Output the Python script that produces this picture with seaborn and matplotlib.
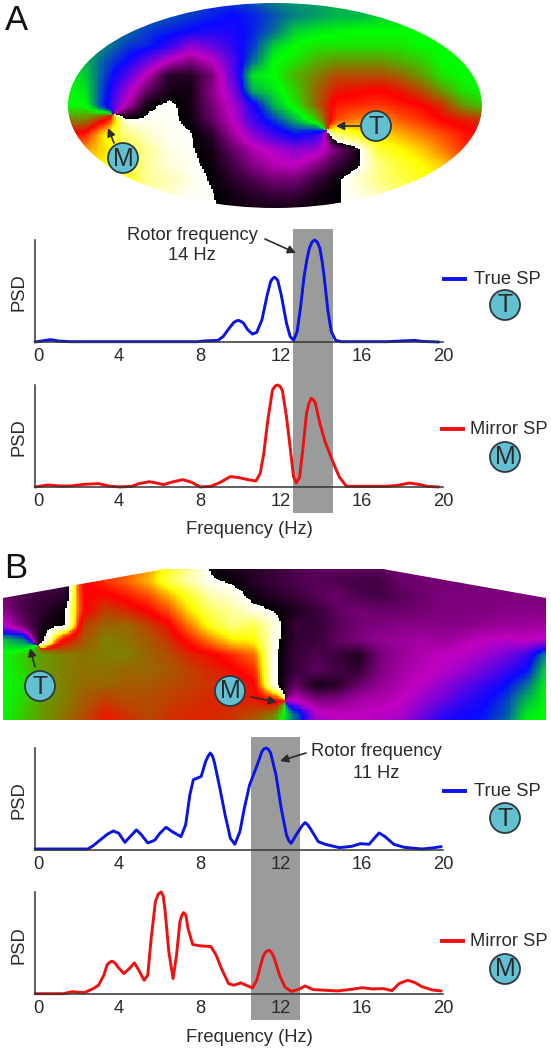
import numpy as np
import pandas as pd
import seaborn as sns
import matplotlib.pyplot as plt
from matplotlib.colors import LinearSegmentedColormap
from matplotlib.patches import Circle, Ellipse, Polygon, Rectangle

W, H = 551, 1050

# PSD traces, frequency in Hz and PSD in % of the panel height
a_true_f = [-0.14, 0.38, 0.64, 0.99, 1.6, 3.33, 7.85, 8.19, 8.89, 9.15, 9.41, 9.67, 9.78, 9.9, 10.02, 10.14, 10.36, 10.59, 10.8, 11.06, 11.32, 11.49, 11.58, 11.67, 11.76, 11.84, 12.01, 12.27, 12.45, 12.62, 12.8, 12.97, 13.14, 13.27, 13.4, 13.53, 13.66, 13.79, 13.92, 14.03, 14.13, 14.31, 14.48, 14.7, 14.97, 17.22, 18.61, 18.96, 19.79]
a_true_p = [0, 1.6, 2.3, 1, 0.3, 0.3, 0.3, 1, 1.6, 5.5, 12.7, 19.2, 20.5, 21.2, 20.2, 18.6, 12, 7.8, 9.4, 21.8, 46.3, 59.3, 62, 63.5, 62.3, 60.3, 46.3, 18.6, 5.5, 1.6, 10.4, 34.9, 64.2, 80, 91.9, 98, 100, 98, 91.9, 79, 64.2, 31.6, 10.4, 1.6, 0.3, 0.3, 1.6, 0.6, 0]

a_mirror_f = [-0.14, 0.47, 1.08, 1.6, 2.29, 2.99, 3.51, 4.03, 4.64, 4.98, 5.5, 5.85, 6.2, 6.63, 7.15, 7.59, 8.02, 8.54, 8.98, 9.5, 9.93, 10.36, 10.76, 10.97, 11.15, 11.35, 11.58, 11.71, 11.84, 11.96, 12.07, 12.27, 12.45, 12.62, 12.76, 12.92, 13.09, 13.26, 13.38, 13.49, 13.6, 13.7, 13.92, 14.18, 14.53, 14.88, 15.23, 15.49, 17.22, 17.74, 18.35, 18.87, 19.22, 19.79]
a_mirror_p = [0, 2, 1, 1, 2.6, 3.3, 1, 0, 0.7, 3.3, 5.2, 3.9, 2.3, 4.9, 7.2, 4.6, 0, 0.7, 4.3, 10.2, 9.2, 7.2, 5.9, 13.1, 32.8, 65.6, 95.1, 99, 100, 98.5, 94.4, 68.9, 39.3, 9.8, 3.9, 9.8, 39.3, 72.1, 82, 86.9, 85.5, 82, 62.3, 44.3, 26.2, 9.8, 0.7, 0.7, 0.7, 1.6, 3.9, 2.3, 0.7, 0]

b_true_f = [-0.14, 2.47, 2.73, 3.07, 3.42, 3.72, 3.99, 4.29, 4.55, 4.86, 5.1, 5.42, 5.76, 6.02, 6.32, 6.63, 7.06, 7.29, 7.5, 7.67, 8.06, 8.28, 8.4, 8.51, 8.62, 8.72, 8.98, 9.24, 9.5, 9.72, 9.97, 10.19, 10.45, 10.8, 11.06, 11.17, 11.27, 11.38, 11.49, 11.75, 12.01, 12.27, 12.39, 12.5, 12.8, 13.05, 13.19, 13.33, 13.49, 13.84, 14.18, 14.88, 15.49, 15.92, 16.35, 16.84, 17.14, 17.57, 18.09, 18.96, 19.48, 19.91]
b_true_p = [1, 1, 4.3, 9.8, 15.4, 18.7, 16.4, 7.5, 13.1, 19.7, 15.1, 6.9, 9.5, 16.4, 22.3, 18, 13.1, 24.6, 54.1, 68.9, 72.1, 86.9, 92, 95.1, 92, 85.2, 60.7, 34.4, 11.5, 5.6, 18, 41, 63.9, 82, 96.7, 99.3, 100, 98.6, 95.1, 73.8, 41, 14.8, 9, 6.6, 16.4, 24, 26.9, 24.5, 19.7, 8.2, 5.6, 2.3, 3.6, 6.2, 5.6, 16.7, 13.1, 5.6, 2.6, 1, 2, 3.3]

b_mirror_f = [-0.14, 1.25, 1.68, 2.29, 2.73, 2.99, 3.25, 3.42, 3.54, 3.65, 3.8, 3.94, 4.24, 4.51, 4.76, 4.98, 5.24, 5.42, 5.59, 5.8, 5.94, 6.08, 6.18, 6.28, 6.46, 6.67, 6.84, 7.01, 7.1, 7.19, 7.3, 7.41, 7.64, 8.02, 8.54, 8.8, 9.06, 9.41, 9.67, 10.02, 10.36, 10.59, 10.8, 11.11, 11.26, 11.41, 11.54, 11.67, 11.93, 12.19, 12.5, 12.88, 13.19, 13.58, 14.79, 15.49, 16.01, 16.53, 17.05, 17.48, 17.83, 18.26, 18.61, 18.96, 19.48, 19.91]
b_mirror_p = [0.3, 0.3, 2.3, 1.3, 5.3, 8.6, 18.4, 28.9, 31, 32.2, 30.5, 26.6, 20, 24.9, 30.5, 23.3, 13.5, 18.4, 54.6, 90.8, 98, 100, 96.5, 80.9, 41.4, 15.1, 38, 70.9, 77, 79.8, 77.5, 64.3, 48.5, 47.2, 46.5, 38, 24.9, 10.2, 8.6, 10.9, 7.9, 5.9, 13.5, 36.5, 41.5, 43, 40.5, 34.9, 18.4, 6.9, 2.6, 4.6, 7.9, 4.3, 3, 4.6, 6.2, 4.9, 5.3, 3.3, 10.2, 13.5, 11.2, 7.2, 3.9, 3]

freq_ticks = [0, 4, 8, 12, 16, 20]

# phase maps: 0 black, 1 magenta, 2 blue, 3 green, 4 red, 5 yellow, 6 white
phase_a = [
    [3, 3, 2.8, 2.5, 2.4, 2.4, 2.3, 2.2, 2.2, 2.3, 2.5, 2.6, 2.6, 2.7, 2.8, 2.8, 3, 3, 3, 3, 3],
    [3, 3, 2.7, 2.5, 2.4, 2.3, 2.2, 2.1, 2, 2.1, 2.3, 2.5, 2.6, 2.7, 2.7, 2.8, 2.8, 3, 3, 3, 3],
    [3, 2.8, 2.6, 2.4, 2.2, 2.1, 2, 1.9, 1.9, 2.1, 2.4, 2.8, 2.9, 2.95, 3, 3, 3, 3, 3, 3, 3],
    [3, 2.8, 2.5, 2.2, 2.1, 1.8, 1.3, 1.5, 1.8, 2.2, 2.8, 3, 3.1, 3.1, 3.1, 3.1, 3.1, 3, 3, 3, 3],
    [3, 2.7, 2.3, 2.0, 1.5, 1.0, 0.7, 1.0, 1.6, 2.4, 3, 3.1, 3.3, 3.4, 3.4, 3.4, 3.3, 3.2, 3.0, 3, 3],
    [3, 2.8, 2.2, 1.6, 0.9, 0.2, 0.2, 0.6, 1.5, 2.9, 3, 3.3, 3.5, 3.7, 3.7, 3.7, 3.6, 3.4, 3.1, 3, 3],
    [3, 2.9, 2.1, 1.2, 0.5, 0.1, 0.1, 0.7, 1.3, 2.7, 2.9, 3.2, 3.6, 3.9, 3.95, 4, 3.9, 3.7, 3.4, 3.1, 3],
    [3, 3, 2.0, 0.9, 0.05, 5.95, 0.1, 0.6, 1.1, 1.9, 2.7, 3.1, 3.6, 4.1, 4.15, 4.2, 4.1, 4, 3.8, 3.4, 3.2],
    [3.5, 3.5, 4, 5.95, 5.95, 5.95, 0.05, 0.5, 1.0, 1.7, 2.2, 2.7, 3.2, 4.3, 4.5, 4.6, 4.35, 4.2, 4, 3.9, 3.8],
    [4, 4.1, 5, 5.5, 5.8, 5.95, 5.98, 0.2, 0.8, 1.3, 1.7, 2, 1.8, 5.5, 5.1, 4.9, 4.7, 4.5, 4.3, 4.1, 4],
    [4.5, 4.6, 4.9, 5.2, 5.6, 5.9, 5.97, 0.1, 0.5, 0.9, 1.1, 1.3, 1.2, 0.6, 0.1, 5.2, 5, 4.8, 4.5, 4.2, 4],
    [4.7, 4.8, 5, 5.3, 5.6, 5.85, 5.95, 0.05, 0.35, 0.7, 0.95, 1, 0.7, 0.3, 0.05, 5.5, 5.2, 5, 4.8, 4.4, 4.2],
    [5, 5, 5, 5, 5.6, 5.7, 5.9, 0.02, 0.2, 0.4, 0.6, 0.6, 0.3, 0.05, 5.8, 5.5, 5.3, 5.1, 5, 5, 5],
    [5, 5, 5, 5, 5.7, 5.8, 5.95, 5.98, 0.1, 0.2, 0.3, 0.3, 0.1, 0.02, 5.9, 5.7, 5.5, 5.5, 5.5, 5.5, 5.5],
    [5, 5, 5, 5, 5.8, 5.9, 5.97, 5.98, 0.05, 0.1, 0.1, 0.1, 0.05, 0.02, 5.95, 5.8, 5.5, 5.5, 5.5, 5.5, 5.5],
]

phase_b = [
    [0.6, 0.5, 0.4, 0.3, 0.3, 4, 4.2, 4.6, 5.1, 5.6, 0.05, 0.15, 0.2, 0.3, 0.4, 0.5, 0.55, 0.5, 0.5, 0.6, 0.6, 0.6, 0.6, 0.6, 0.6, 0.6, 0.6],
    [0.6, 0.5, 0.4, 0.3, 3.95, 4.2, 4.4, 4.7, 5.3, 5.7, 5.97, 0.05, 0.2, 0.3, 0.4, 0.45, 0.4, 0.35, 0.35, 0.55, 0.6, 0.6, 0.6, 0.6, 0.6, 0.6, 0.6],
    [0.6, 0.4, 0.3, 0.25, 4, 3.95, 4.1, 4.3, 4.7, 5.2, 5.7, 5.85, 0.1, 0.2, 0.3, 0.45, 0.55, 0.4, 0.35, 0.45, 0.55, 0.65, 0.65, 0.65, 0.65, 0.65, 0.65],
    [0.8, 0.4, 0.25, 0.05, 4.0, 3.75, 3.85, 4.0, 4.3, 4.9, 5.4, 5.6, 5.9, 0.02, 0.15, 0.3, 0.5, 0.6, 0.55, 0.55, 0.6, 0.65, 0.65, 0.65, 0.7, 0.7, 0.7],
    [1.2, 0.6, 0.1, 0.02, 3.75, 3.6, 3.6, 3.75, 3.95, 4.5, 5.1, 5.5, 5.3, 5.85, 0.3, 0.25, 0.45, 0.6, 0.65, 0.7, 0.7, 0.7, 0.7, 0.75, 0.8, 0.8, 0.85],
    [2.8, 2.5, 0.05, 4.0, 3.65, 3.5, 3.55, 3.65, 3.8, 4.1, 4.5, 4.9, 5.0, 5.9, 0.25, 0.3, 0.5, 0.65, 0.75, 0.8, 0.85, 0.8, 0.9, 1, 1.05, 1, 1.1],
    [3, 3.2, 3.4, 3.5, 3.55, 3.5, 3.5, 3.6, 3.7, 3.85, 3.95, 4.15, 4.4, 5.95, 0.3, 0.4, 0.3, 0.15, 0.6, 0.8, 0.9, 1, 1.05, 1.2, 1.4, 1.7, 2.6],
    [3, 3.15, 3.4, 3.5, 3.55, 3.55, 3.6, 3.6, 3.65, 3.75, 3.85, 3.95, 4.15, 5.95, 0.3, 0.5, 0.35, 0.25, 0.65, 0.85, 0.95, 1.05, 1.2, 1.45, 1.7, 2.0, 2.9],
    [3, 3.1, 3.4, 3.5, 3.6, 3.6, 3.65, 3.65, 3.7, 3.75, 3.8, 3.85, 3.95, 5.9, 0.5, 0.1, 0.2, 0.55, 0.75, 0.9, 1.05, 1.25, 1.5, 1.75, 2.0, 2.4, 3],
    [3, 3.15, 3.4, 3.5, 3.65, 3.75, 3.7, 3.7, 3.75, 3.8, 3.85, 3.85, 3.9, 4.1, 1.0, 0.65, 0.7, 0.85, 0.9, 1.0, 1.2, 1.45, 1.75, 1.95, 2.2, 2.7, 3],
    [3, 3.2, 3.4, 3.55, 3.7, 3.9, 3.8, 3.7, 3.8, 3.85, 3.85, 3.8, 3.7, 3.5, 2.4, 1.1, 1.0, 1.0, 1.05, 1.1, 1.4, 1.8, 1.95, 2.05, 2.3, 2.9, 3],
    [3, 3.25, 3.4, 3.6, 3.75, 3.9, 3.85, 3.8, 3.85, 3.85, 3.85, 3.8, 3.6, 3.3, 2.3, 1.2, 1, 1, 1.1, 1.3, 1.6, 1.95, 2, 2.1, 2.5, 3, 3],
]

phase_colors = ['#000000', '#c000c0', '#0808ff', '#00ff00', '#ff0000', '#ffff00', '#ffffff']
phase_cmap = LinearSegmentedColormap.from_list('phase', phase_colors, N=1024)

sns.set_style('white')
plt.rcParams['font.family'] = ['Liberation Sans', 'DejaVu Sans']
TEXT = '#2b2b2b'
BAND = '#9a9c9b'
FS = 13.2


def px_axes(fig, x0, y0, x1, y1, z):
    ax = fig.add_axes([x0 / W, 1 - y1 / H, (x1 - x0) / W, (y1 - y0) / H], zorder=z)
    ax.patch.set_visible(False)
    return ax


def upscale(grid, k=12):
    # refine the read grid on the phase circle, so the white/black jump stays sharp
    z = np.exp(2j * np.pi * np.array(grid, dtype=float) / 6)
    rows, cols = z.shape
    xi = np.linspace(0, cols - 1, (cols - 1) * k)
    yi = np.linspace(0, rows - 1, (rows - 1) * k)
    z1 = np.array([np.interp(xi, np.arange(cols), r.real) + 1j * np.interp(xi, np.arange(cols), r.imag) for r in z])
    z2 = np.array([np.interp(yi, np.arange(rows), c.real) + 1j * np.interp(yi, np.arange(rows), c.imag) for c in z1.T]).T
    return (np.angle(z2) % (2 * np.pi)) * 6 / (2 * np.pi)


def draw_map(fig, grid, box, clip):
    ax = px_axes(fig, *box, 1)
    sns.heatmap(upscale(grid), vmin=0, vmax=6, cmap=phase_cmap, cbar=False,
                xticklabels=False, yticklabels=False, ax=ax)
    ax.collections[0].set_clip_path(clip)
    ax.axis('off')


def psd_panel(fig, freq, psd, color, x0, top, base):
    ax = px_axes(fig, x0, top, 443, base, 3)
    sns.lineplot(x=freq, y=psd, color=color, lw=2.1, ax=ax, errorbar=None, clip_on=False)
    ax.set_xlim((x0 - 38) / 20.25, 20)
    ax.set_ylim(0, 100)
    ax.set_xticks(freq_ticks)
    ax.set_yticks([])
    ax.tick_params(axis='x', length=0, pad=4, labelsize=FS, labelcolor=TEXT)
    ax.set_xlabel('')
    ax.set_ylabel('')
    sns.despine(ax=ax)
    for s in ['left', 'bottom']:
        ax.spines[s].set_color('#333333')
        ax.spines[s].set_linewidth(1.1)
    return ax


def badge(ax, x, y, letter):
    ax.add_patch(Circle((x, y), 15, fc='#62c0d0', ec='#2c3a40', lw=1.3, zorder=6))
    ax.text(x, y + 0.5, letter, ha='center', va='center', fontsize=18, color='#2b2b2b', zorder=7)


def arrow(ax, start, end):
    ax.annotate('', xy=end, xytext=start,
                arrowprops=dict(arrowstyle='-|>', color='#2b2b2b', lw=1.2, mutation_scale=12, shrinkA=0, shrinkB=0),
                zorder=5)


fig = plt.figure(figsize=(W / 100, H / 100), dpi=100)

back = px_axes(fig, 0, 0, W, H, 0)
back.set_xlim(0, W)
back.set_ylim(H, 0)
back.axis('off')
front = px_axes(fig, 0, 0, W, H, 5)
front.set_xlim(0, W)
front.set_ylim(H, 0)
front.axis('off')

back.add_patch(Rectangle((293, 229), 40, 284, fc=BAND, ec='none'))
back.add_patch(Rectangle((251, 737), 49, 283, fc=BAND, ec='none'))

# outlines of the two maps
clip_a = Ellipse((275, 105.5), 413.5, 205, transform=front.transData)
clip_b = Polygon([(3, 598), (81, 584), (165, 569), (383, 569), (546, 598), (546, 720), (3, 720)],
                 transform=front.transData)
draw_map(fig, phase_a, (63.3, 0, 485, 210), clip_a)
draw_map(fig, phase_b, (0, 565, 548.3, 730), clip_b)

psd_panel(fig, a_true_f, a_true_p, '#0a14e6', 35, 240, 342)
psd_panel(fig, a_mirror_f, a_mirror_p, '#f01010', 35, 385, 487)
psd_panel(fig, b_true_f, b_true_p, '#0a14e6', 35, 748, 850)
psd_panel(fig, b_mirror_f, b_mirror_p, '#f01010', 35, 892, 994)

front.text(5, 20, 'A', fontsize=25, color='#111111', va='center')
front.text(4, 568, 'B', fontsize=25, color='#111111', va='center')

for y in [292, 437, 800, 945]:
    front.text(19, y, 'PSD', rotation=90, fontsize=FS, color=TEXT, ha='center', va='center')
for y in [530, 1038]:
    front.text(249, y, 'Frequency (Hz)', fontsize=FS, color=TEXT, ha='center', va='center')

front.text(192, 235, 'Rotor frequency', fontsize=FS, color=TEXT, ha='center', va='center')
front.text(192, 255, '14 Hz', fontsize=FS, color=TEXT, ha='center', va='center')
arrow(front, (265, 239), (296, 253))
front.text(376, 752, 'Rotor frequency', fontsize=FS, color=TEXT, ha='center', va='center')
front.text(376, 773, '11 Hz', fontsize=FS, color=TEXT, ha='center', va='center')
arrow(front, (306, 753), (280, 761))

# legend keys next to the traces
for y, name, x_line, x_text, color, letter, y_badge in [
    (279, 'True SP', 442, 474, '#0a14e6', 'T', 305),
    (429, 'Mirror SP', 440, 470, '#f01010', 'M', 457),
    (791, 'True SP', 442, 474, '#0a14e6', 'T', 818),
    (941, 'Mirror SP', 440, 470, '#f01010', 'M', 969),
]:
    front.plot([x_line, x_line + 25], [y, y], color=color, lw=2.8, solid_capstyle='butt')
    front.text(x_text, y, name, fontsize=FS, color=TEXT, va='center')
    badge(front, 505, y_badge, letter)

badge(front, 376, 126, 'T')
badge(front, 123, 158, 'M')
arrow(front, (360, 126), (336, 126))
arrow(front, (114, 143), (108, 128))
badge(front, 40, 686, 'T')
badge(front, 230, 691, 'M')
arrow(front, (35, 667), (30, 648))
arrow(front, (251, 697), (277, 702))

fig.savefig('out.png', dpi=100)
